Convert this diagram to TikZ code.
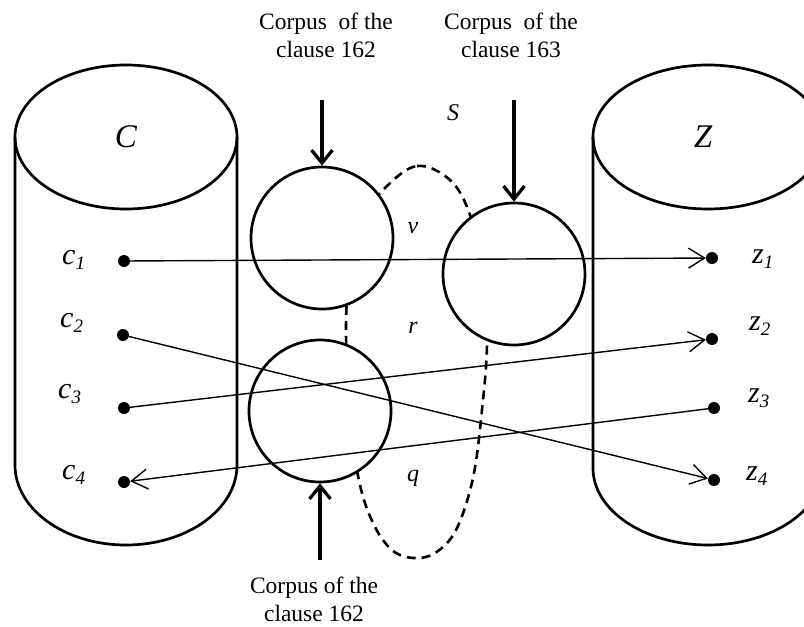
\documentclass[tikz,border=0pt]{standalone}
\usepackage{fontspec}
\setmainfont{Liberation Serif}
\usetikzlibrary{arrows.meta}
\begin{document}
\begin{tikzpicture}[x=1pt,y=1pt,
  cyl/.style={line width=2.7pt},
  ring/.style={circle,draw,line width=2.7pt,fill=white,minimum size=142pt,inner sep=0pt},
  dot/.style={circle,fill=black,minimum size=12pt,inner sep=0pt},
  thin/.style={line width=1.4pt,-{Straight Barb[length=16pt,width=20pt]}},
  feed/.style={line width=3.3pt,-{Straight Barb[length=13pt,width=21pt]}},
  loop/.style={line width=2.6pt,dash pattern=on 9pt off 6pt},
  lbl/.style={align=center,font=\fontsize{23.5}{28}\selectfont,inner sep=0pt},
  big/.style={font=\fontsize{33}{36}\selectfont\itshape,inner sep=0pt},
  small/.style={font=\fontsize{24}{26}\selectfont\itshape,inner sep=0pt},
  pt/.style={font=\fontsize{30}{34}\selectfont\itshape,inner sep=0pt,anchor=base west}]
\useasboundingbox (0,0) rectangle (804,-627);
% cylinders
\draw[cyl] (126,-137) ellipse[x radius=111pt,y radius=72pt];
\draw[cyl] (15,-137) -- (15,-465) arc[start angle=180,end angle=360,x radius=111pt,y radius=80pt] -- (237,-137);
\draw[cyl] (708,-137) ellipse[x radius=115pt,y radius=72pt];
\draw[cyl] (593,-137) -- (593,-468) arc[start angle=180,end angle=360,x radius=115pt,y radius=77pt] -- (823,-137);
\node[big] (Cl) at (126,-137) {C};
\node[big] (Zl) at (703,-137) {Z};
% dashed set S
\draw[loop] plot[smooth cycle,tension=0.6] coordinates {(385,-188) (417,-166) (450,-180) (470,-215) (485,-280) (487,-345) (482,-410) (473,-478) (456,-530) (435,-553) (413,-558) (392,-550) (374,-525) (360,-485) (350,-420) (346,-330) (350,-270) (362,-220)};
% circles
\node[ring] (k1) at (322,-238) {};
\node[ring] (k2) at (320,-411) {};
\node[ring] (k3) at (514,-274) {};
% small labels
\node[small] (S) at (453,-113) {S};
\node[small] (v) at (413,-228) {v};
\node[small] (r) at (413,-328) {r};
\node[small] (q) at (413,-478) {q};
% corpus labels
\node[lbl,anchor=base] (t1) at (326,-57) {Corpus\ \ of the\\clause 162};
\node[lbl,anchor=base] (t2) at (511,-57) {Corpus\ \ of the\\clause 163};
\node[lbl,anchor=base] (t3) at (314,-621) {Corpus of the\\clause 162};
\coordinate (a1) at (322,-100);
\coordinate (a2) at (514,-100);
\coordinate (a3) at (320,-560);
\draw[feed] (a1) -- (k1);
\draw[feed] (a2) -- (k3);
\draw[feed] (a3) -- (k2);
% points
\node[dot] (c1) at (124,-261) {};
\node[dot] (c2) at (123,-335) {};
\node[dot] (c3) at (124,-408) {};
\node[dot] (c4) at (124,-482) {};
\node[dot] (z1) at (712,-258) {};
\node[dot] (z2) at (712,-339) {};
\node[dot] (z3) at (714,-408) {};
\node[dot] (z4) at (714,-480) {};
\newcommand\sub[1]{\raisebox{-5pt}{\fontsize{19}{19}\selectfont #1}}
\node[pt] (lc1) at (62,-264) {c\sub{1}};
\node[pt] (lc2) at (60,-327) {c\sub{2}};
\node[pt] (lc3) at (58,-398) {c\sub{3}};
\node[pt] (lc4) at (62,-479) {c\sub{4}};
\node[pt] (lz1) at (752,-263) {z\sub{1}};
\node[pt] (lz2) at (749,-330) {z\sub{2}};
\node[pt] (lz3) at (748,-402) {z\sub{3}};
\node[pt] (lz4) at (746,-480) {z\sub{4}};
% mappings
\draw[thin] (c1) -- (z1);
\draw[thin] (c2) -- (z4);
\draw[thin] (c3) -- (z2);
\draw[thin] (z3) -- (c4);
\end{tikzpicture}
\end{document}
